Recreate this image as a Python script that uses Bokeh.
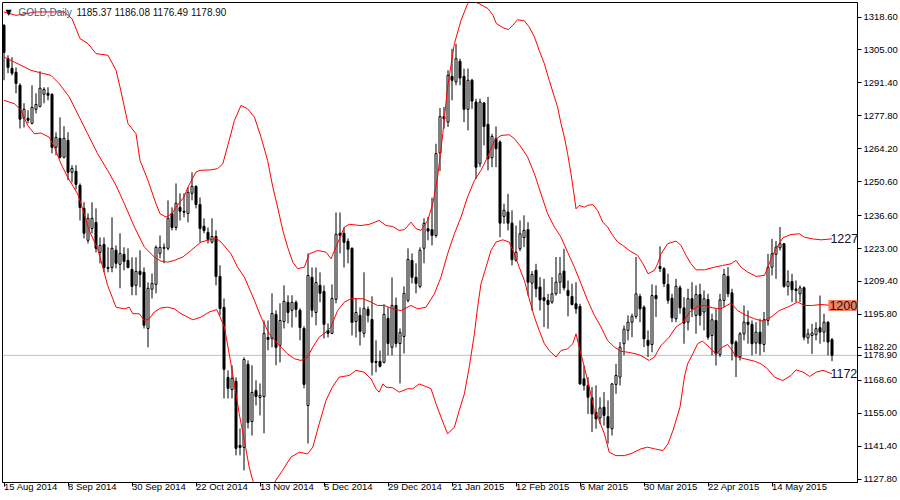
from bokeh.plotting import figure
from bokeh.models import Range1d, FixedTicker, Label, Span, ColumnDataSource, NumeralTickFormatter
from bokeh.embed import file_html
from bokeh.resources import INLINE

# ---------------- data ----------------
open_ = [1315.2,1301.5,1297.4,1295.8,1290.4,1276.8,1276.8,1274.7,1280.5,1281.7,
         1286.7,1287.1,1286.7,1264.8,1268.5,1260.7,1267.7,1254.5,1254.9,1249.1,
         1239.6,1226.4,1231.3,1233.8,1221.4,1224.7,1215.2,1215.2,1222.3,1216.5,
         1220.6,1218.1,1214.4,1207.8,1213.6,1213.2,1190.0,1206.2,1208.2,1221.0,
         1223.1,1223.1,1237.5,1231.7,1240.0,1238.4,1237.5,1245.8,1248.7,1241.2,
         1232.2,1229.7,1225.6,1228.0,1211.5,1198.7,1169.8,1164.8,1168.2,1141.7,
         1140.9,1175.2,1151.6,1164.4,1161.5,1161.9,1186.3,1185.9,1195.8,1183.0,
         1192.9,1200.8,1197.5,1200.8,1197.5,1190.0,1158.2,1211.1,1196.6,1207.8,
         1205.3,1189.2,1188.0,1202.0,1229.3,1229.3,1226.0,1223.1,1192.9,1195.4,
         1188.0,1197.9,1193.7,1176.4,1176.4,1176.0,1194.2,1182.2,1199.5,1183.8,
         1186.7,1201.6,1218.1,1211.1,1207.4,1223.1,1231.2,1230.8,1228.4,1262.4,
         1277.5,1275.2,1294.1,1291.8,1300.3,1294.1,1280.5,1292.5,1283.5,1258.0,
         1283.1,1274.3,1260.5,1268.4,1267.0,1236.3,1238.1,1233.5,1218.1,1222.9,
         1227.5,1230.8,1208.7,1214.0,1207.1,1202.7,1201.6,1200.9,1204.3,1209.1,
         1213.7,1205.7,1203.2,1200.2,1199.1,1169.2,1166.5,1161.4,1155.4,1153.1,
         1157.5,1153.6,1148.6,1166.9,1169.9,1183.7,1189.2,1192.6,1195.0,1203.2,
         1198.8,1185.1,1183.4,1203.6,1215.6,1214.7,1208.2,1202.5,1194.0,1206.8,
         1198.5,1192.6,1202.3,1195.4,1204.0,1196.8,1202.0,1187.1,1193.3,1179.3,
         1201.6,1211.5,1204.7,1184.4,1178.4,1187.8,1192.6,1191.7,1184.0,1188.5,
         1183.4,1193.3,1215.3,1220.6,1223.3,1225.0,1207.4,1209.4,1206.3,1204.3,
         1206.8,1186.1,1187.1,1187.4,1190.3,1188.5,1192.6,1185.37]
high_ = [1315.6,1302.8,1302.0,1297.8,1291.2,1283.0,1280.1,1290.4,1287.1,1296.2,
         1289.6,1289.6,1287.1,1271.0,1277.2,1273.5,1271.0,1257.4,1257.4,1249.9,
         1242.1,1237.5,1242.1,1239.6,1227.6,1227.6,1223.5,1235.9,1224.3,1229.3,
         1223.5,1223.1,1219.4,1219.4,1222.3,1215.2,1209.0,1212.7,1224.3,1228.4,
         1225.1,1242.9,1240.0,1249.9,1245.8,1245.8,1248.3,1254.5,1249.1,1244.1,
         1235.5,1231.7,1235.5,1230.5,1216.1,1202.4,1172.7,1174.8,1169.8,1148.7,
         1178.1,1176.8,1174.8,1168.6,1167.3,1193.3,1193.3,1204.5,1197.5,1200.4,
         1207.8,1203.7,1203.7,1201.6,1198.3,1190.9,1221.0,1215.2,1215.2,1213.2,
         1207.8,1192.1,1208.2,1237.9,1237.9,1231.7,1227.2,1223.5,1202.4,1198.7,
         1213.2,1199.1,1203.3,1185.1,1180.9,1200.0,1198.7,1211.1,1202.8,1190.0,
         1207.4,1223.1,1221.0,1216.9,1223.5,1235.5,1236.0,1244.0,1266.3,1281.0,
         1281.4,1296.6,1305.5,1307.6,1301.4,1297.3,1297.3,1293.1,1284.9,1284.9,
         1283.5,1285.6,1270.4,1273.4,1267.7,1241.5,1245.6,1238.8,1232.5,1234.6,
         1236.7,1233.9,1213.7,1216.7,1211.2,1210.5,1204.3,1211.2,1219.5,1219.5,
         1222.9,1209.8,1208.5,1209.1,1200.2,1174.7,1169.9,1165.8,1166.5,1161.6,
         1163.7,1160.3,1167.5,1175.4,1184.4,1191.2,1195.4,1196.1,1219.5,1204.3,
         1199.5,1189.2,1208.2,1207.8,1223.9,1215.3,1212.6,1204.3,1210.5,1207.8,
         1202.9,1206.4,1209.1,1207.8,1208.5,1205.7,1204.3,1196.1,1198.1,1204.3,
         1214.6,1215.3,1206.4,1185.1,1188.5,1199.5,1197.4,1193.3,1192.6,1194.0,
         1196.8,1220.8,1227.0,1226.1,1231.9,1225.3,1214.0,1212.6,1209.8,1207.8,
         1207.4,1189.9,1191.9,1192.6,1203.6,1196.1,1193.0,1186.08]
low_ = [1292.5,1295.4,1294.5,1287.1,1272.6,1273.0,1274.7,1274.3,1278.8,1281.3,
        1283.0,1284.2,1262.3,1261.5,1260.2,1260.2,1251.2,1250.3,1247.4,1234.6,
        1227.2,1225.1,1229.3,1221.4,1216.9,1213.2,1213.2,1213.2,1214.8,1206.6,
        1214.0,1214.8,1203.7,1203.7,1207.0,1190.0,1182.2,1202.4,1204.5,1219.0,
        1216.9,1222.3,1230.5,1230.5,1234.6,1235.9,1233.8,1242.9,1239.6,1225.6,
        1229.3,1225.1,1225.1,1207.8,1195.4,1161.1,1161.1,1161.1,1137.6,1137.6,
        1131.4,1148.7,1145.8,1158.2,1154.1,1146.7,1181.0,1182.2,1174.8,1176.0,
        1190.0,1192.1,1190.4,1194.6,1185.1,1165.3,1142.5,1194.6,1191.3,1200.8,
        1185.9,1186.3,1187.6,1200.4,1221.0,1215.2,1216.9,1187.1,1186.3,1183.0,
        1186.3,1192.5,1170.6,1171.9,1173.9,1175.6,1178.9,1178.9,1182.2,1167.3,
        1179.7,1200.8,1208.6,1204.5,1206.6,1216.9,1226.4,1224.3,1227.5,1255.0,
        1272.5,1273.2,1284.2,1290.4,1290.4,1275.2,1271.8,1280.7,1251.8,1256.6,
        1265.6,1255.3,1256.6,1256.6,1227.7,1233.2,1230.5,1216.0,1217.6,1221.9,
        1223.6,1203.6,1197.4,1202.9,1197.4,1190.6,1189.9,1200.2,1203.6,1204.3,
        1205.7,1195.0,1199.5,1196.1,1166.8,1164.4,1154.7,1147.2,1148.6,1150.6,
        1149.9,1142.4,1145.8,1163.0,1166.5,1178.9,1185.1,1186.4,1194.0,1192.6,
        1182.3,1178.2,1180.2,1194.7,1213.3,1207.1,1200.2,1192.6,1192.6,1196.1,
        1183.7,1189.2,1194.7,1187.8,1191.2,1189.2,1185.3,1178.9,1174.7,1178.2,
        1198.8,1202.9,1176.8,1169.9,1176.8,1185.1,1183.7,1178.9,1179.5,1178.9,
        1180.2,1191.2,1211.9,1210.5,1222.2,1206.8,1203.6,1200.9,1200.9,1200.9,
        1185.1,1183.7,1179.5,1185.1,1183.7,1184.4,1178.9,1176.49]
close_ = [1304.0,1297.8,1295.4,1291.2,1276.4,1280.5,1276.0,1281.3,1282.5,1289.2,
          1288.7,1286.3,1264.8,1268.9,1260.7,1268.5,1254.5,1256.1,1249.5,1240.0,
          1229.3,1235.5,1235.5,1223.1,1224.3,1215.2,1214.8,1223.1,1216.9,1221.0,
          1217.7,1215.2,1207.4,1213.6,1212.3,1191.3,1206.6,1208.6,1223.5,1223.5,
          1223.5,1235.5,1231.7,1241.7,1238.4,1238.0,1246.2,1248.7,1241.2,1231.3,
          1230.5,1226.8,1228.0,1211.5,1198.3,1173.1,1165.3,1169.4,1140.5,1140.9,
          1177.2,1151.2,1163.6,1161.9,1162.4,1188.0,1185.5,1196.2,1182.2,1193.3,
          1201.2,1196.6,1200.8,1197.9,1190.4,1166.9,1211.9,1197.5,1209.0,1204.5,
          1191.7,1188.0,1202.4,1228.9,1228.4,1225.6,1222.7,1192.5,1196.6,1188.8,
          1198.3,1195.4,1176.0,1176.0,1174.4,1195.8,1183.8,1199.5,1183.8,1188.4,
          1204.5,1218.5,1211.1,1208.6,1222.3,1233.4,1230.2,1228.4,1262.2,1277.5,
          1276.6,1294.5,1292.5,1301.4,1293.4,1280.5,1292.5,1283.9,1256.6,1283.5,
          1273.4,1260.1,1269.3,1264.2,1233.5,1238.8,1233.5,1218.4,1221.5,1229.1,
          1230.5,1209.1,1212.3,1206.4,1201.8,1201.6,1199.9,1204.3,1209.1,1212.6,
          1206.8,1203.6,1199.9,1198.1,1167.1,1166.5,1161.6,1154.7,1152.7,1157.2,
          1154.1,1149.0,1167.1,1170.6,1182.3,1189.7,1192.6,1195.0,1204.3,1198.1,
          1185.7,1183.0,1203.6,1202.3,1214.7,1208.5,1201.6,1194.4,1207.4,1198.5,
          1192.2,1202.3,1198.1,1204.0,1195.4,1202.3,1186.4,1193.6,1179.5,1201.8,
          1212.3,1204.3,1183.7,1178.4,1187.8,1192.6,1191.7,1183.7,1188.5,1183.7,
          1193.6,1215.3,1220.8,1223.6,1225.0,1207.4,1209.4,1206.0,1205.7,1206.8,
          1186.4,1187.8,1188.1,1189.9,1188.5,1192.6,1184.4,1178.90]

upper_x = [0,3,8,15,17,19,21,23,26,28,29,31,33,34,36,38,39,40.5,42,43,45,46,48,49,
           51.75,53.4,54.7,56.3,57.6,59.25,60.9,62.6,64.25,65.9,67.2,68.4,69.7,70.9,72.2,
           73.4,75.1,76.3,78.4,80.5,81.75,83,85.1,86.3,89.25,91.3,93.8,95.5,97.2,98.8,
           100.1,101.75,103,104.25,105.9,107.2,108.4,109.7,110.9,112.6,114.25,115.9,
           116.75,118.8,121,122.25,123.1,124.75,126.1,127.2,128.4,130.1,131.3,132.6,
           133.8,135.1,136.3,137.6,138.4,139.25,140.1,140.9,141.75,142.6,143,143.8,
           145.1,145.9,147.2,148.4,149.7,150.9,152.2,153.4,154.7,156.3,158.4,159.75,
           161,162.6,163.4,164.25,165.9,168,169.25,170.5,171.75,173,175.1,177.6,179.6,
           181.75,183,184.25,185.9,188,190.1,191,191.75,193,194.75,196.75,198.8,200.1,
           202.1,204.25,207]
upper_y = [1320.7,1319.3,1320.7,1320.7,1317.9,1309.7,1307.6,1303.5,1302.8,1296.6,1289.7,
           1274.6,1270.4,1259.4,1251.1,1241.5,1237.4,1236.0,1237.4,1240.1,1244.3,1248.4,
           1254.6,1255.3,1255.5,1256.0,1258.0,1267.7,1275.9,1282.1,1280.7,1277.3,1269.0,
           1259.4,1248.4,1240.1,1230.5,1223.6,1217.4,1214.7,1215.3,1220.8,1222.2,1221.5,
           1218.8,1223.6,1231.9,1233.0,1232.5,1233.0,1234.6,1232.5,1232.1,1230.5,1230.8,
           1233.9,1231.2,1230.5,1234.6,1241.5,1252.5,1270.4,1289.7,1307.6,1317.2,1324.1,
           1325.5,1324.1,1322.1,1319.3,1315.9,1314.2,1313.4,1315.2,1317.5,1317.0,1314.5,
           1310.4,1304.8,1299.3,1292.5,1285.6,1281.4,1274.6,1269.0,1262.2,1253.9,1244.3,
           1239.4,1240.8,1240.1,1240.8,1241.2,1238.7,1233.9,1231.9,1228.4,1225.7,1224.3,
           1222.2,1220.2,1216.7,1212.6,1214.0,1216.7,1220.8,1225.0,1226.1,1224.3,1220.2,
           1216.7,1214.2,1214.2,1215.3,1216.0,1216.7,1218.1,1215.3,1213.3,1211.5,1211.9,
           1215.3,1218.8,1222.9,1227.5,1228.8,1229.1,1227.7,1227.0,1226.6,1227.0]

middle_x = [0,2.6,6.75,9.25,11.75,13.8,16.3,19.25,20.9,23.4,25.9,28,30.1,32.6,35.1,37.6,
            39.25,40.9,42.6,44.7,46.75,49.25,50.9,53,54.25,56.75,58.4,60.1,62.6,64.25,
            66.3,68.4,70.9,72.6,74.25,75.9,77.2,78.8,80.5,81.75,83.4,85.1,86.75,89.7,
            91.75,93.4,95.1,97.2,99.25,101.75,103.4,105.5,107.6,109.25,110.9,112.6,
            114.25,115.9,117.6,119.25,120.9,122.6,124.25,126.3,127.6,129.25,130.9,132.6,
            134.25,135.9,137.6,139.25,140.9,142.6,144.25,145.9,147.6,149.25,150.9,152.6,
            154.25,155.9,158,159.25,161.3,162.6,164.25,166.3,168,169.75,171.4,173.4,
            175.1,177.2,179.25,181.75,183.4,185.5,187.6,189.7,191.75,193.8,195.9,198.4,
            200.1,202.1,204.25,207]
middle_y = [1302.1,1300.0,1296.6,1295.5,1294.5,1291.1,1285.6,1275.9,1270.4,1262.2,1255.3,
            1249.1,1241.5,1231.9,1223.6,1219.5,1217.8,1217.4,1218.1,1219.5,1222.2,1225.7,
            1226.4,1227.2,1225.7,1220.8,1215.3,1211.2,1201.6,1194.7,1187.8,1183.7,1179.5,
            1177.5,1176.8,1178.2,1182.3,1186.4,1188.5,1190.6,1197.4,1200.9,1202.3,1202.3,
            1200.9,1199.5,1199.5,1198.1,1197.4,1199.5,1198.1,1198.8,1204.3,1211.2,1220.8,
            1229.1,1236.0,1244.3,1251.1,1255.3,1260.8,1267.7,1269.7,1270.0,1268.4,1264.9,
            1260.8,1253.9,1245.6,1237.4,1231.9,1227.7,1221.5,1215.3,1208.5,1201.6,1195.4,
            1190.6,1185.0,1182.3,1180.6,1180.2,1179.5,1178.8,1176.8,1178.2,1183.0,1186.4,
            1190.6,1192.6,1196.8,1199.1,1199.5,1198.5,1198.1,1200.5,1197.4,1195.4,1194.0,
            1193.0,1194.7,1197.4,1198.8,1200.9,1199.5,1199.5,1199.9,1199.5]

lower_x = [0,2.6,4.25,5.9,7.6,9.25,11.3,12.6,14.25,15.9,18.4,19.25,21.3,23.4,24.7,25.9,
           28,30.1,31.3,32.2,33.8,35.1,36.3,37.6,39.25,40.9,42.6,44.25,47.2,49.25,51.3,
           53.2,55.1,56.3,57.6,58.8,60.1,61.3,62.2,63.5,65,66.5,67.9,69.6,71.75,73.8,
           75.9,77.2,78.8,80.5,82.1,83.8,86.3,88,90,91.75,93,93.8,94.7,95.5,97.2,98.8,
           100.9,102.2,103.8,105.5,106.75,108,109.25,110.9,112.6,113.8,115.1,116.3,
           117.6,118.4,119.25,120.5,121.75,123,124.7,126.3,127.6,128.8,130.1,131.3,
           132.6,133.8,135.1,136.3,138,139.25,140.9,142.2,143,143.8,145.1,146.3,147.6,
           148.8,150.1,151.3,153,155.1,156.75,159.25,160.9,162.6,164.75,166,167.25,169,
           170.1,170.9,172.2,173.4,174.6,176.3,178,179.6,180.9,181.75,183,185.1,187.6,
           189.25,190.9,192.6,194.7,196.75,198,199.75,201.4,203.1,204.75,207]
lower_y = [1284.2,1282.8,1280.1,1273.9,1270.4,1270.7,1269.0,1264.9,1258.0,1252.5,1245.6,
           1241.5,1230.5,1222.9,1215.3,1207.8,1198.8,1198.1,1198.8,1196.1,1196.1,1193.3,
           1194.0,1196.8,1198.5,1198.8,1198.1,1196.1,1193.6,1194.7,1196.8,1197.8,1190.6,
           1179.5,1167.1,1154.8,1143.7,1132.7,1127.2,1120.0,1116.5,1119.5,1127.2,1131.3,
           1136.9,1138.9,1138.2,1141.0,1150.6,1160.3,1165.8,1169.9,1170.6,1172.7,1172.0,
           1169.2,1165.1,1163.7,1167.1,1165.8,1165.5,1163.7,1165.1,1165.1,1167.1,1166.0,
           1165.1,1158.9,1153.4,1146.5,1149.2,1156.1,1163.0,1174.0,1187.8,1198.8,1208.5,
           1215.3,1222.2,1225.7,1226.6,1225.7,1220.8,1215.3,1209.8,1202.3,1194.7,1189.2,
           1183.7,1180.9,1178.2,1180.9,1181.6,1183.7,1187.8,1182.3,1174.0,1165.8,1156.1,
           1152.0,1146.5,1138.9,1137.5,1137.5,1138.3,1140.3,1141.0,1140.3,1139.6,1142.4,
           1147.9,1157.5,1169.9,1175.4,1179.5,1183.7,1184.8,1182.3,1179.5,1182.3,1183.4,
           1181.6,1178.4,1177.5,1176.5,1175.4,1173.3,1169.9,1168.5,1170.6,1172.9,1172.0,
           1170.2,1172.0,1172.7,1171.3]

date_ticks = [0, 16, 32, 48, 64, 80, 96, 112, 128, 144, 160, 176, 192]
date_labels = ["15 Aug 2014", "8 Sep 2014", "30 Sep 2014", "22 Oct 2014", "13 Nov 2014",
               "5 Dec 2014", "29 Dec 2014", "21 Jan 2015", "12 Feb 2015", "6 Mar 2015",
               "30 Mar 2015", "22 Apr 2015", "14 May 2015"]
price_ticks = [1318.6, 1305.0, 1291.4, 1277.8, 1264.2, 1250.6, 1236.6, 1223.0, 1209.4,
               1195.8, 1182.2, 1168.6, 1155.0, 1141.4, 1127.8]
last_price = 1178.90
band_end = {"upper": 1227, "middle": 1200, "lower": 1172}
header_ohlc = "1185.37 1186.08 1176.49 1178.90"

# ---------------- figure ----------------
FONT = "Liberation Sans"
X0, X1 = -0.375, 213.375
Y0, Y1 = 1126.4, 1324.6
p = figure(width=900, height=500, output_backend="svg", toolbar_location=None,
           x_range=Range1d(X0, X1), y_range=Range1d(Y0, Y1),
           x_axis_location="below", y_axis_location="right",
           min_border_left=2, min_border_top=2, min_border_right=43, min_border_bottom=18)
p.background_fill_color = "white"
p.border_fill_color = "white"
p.outline_line_color = "black"
p.outline_line_width = 1
p.grid.visible = False

xs = list(range(len(close_)))
src = ColumnDataSource(dict(
    x=xs, high=high_, low=low_,
    top=[max(o, c) for o, c in zip(open_, close_)],
    bottom=[min(o, c) for o, c in zip(open_, close_)],
    fill=["white" if c >= o else "black" for o, c in zip(open_, close_)],
))

p.add_layout(Span(location=last_price, dimension="width", line_color="#C0C0C0",
                  line_width=1, level="underlay"))

p.segment(x0="x", y0="low", x1="x", y1="high", source=src, line_color="black", line_width=1)
p.vbar(x="x", width=0.5, top="top", bottom="bottom", source=src,
       fill_color="fill", line_color="black", line_width=1)

for bx, by in ((upper_x, upper_y), (middle_x, middle_y), (lower_x, lower_y)):
    p.line(bx, by, line_color="#FF0000", line_width=1)

# bottom axis: labels start at their tick (tiny negative angle -> left anchored)
xa = p.xaxis[0]
xa.ticker = FixedTicker(ticks=date_ticks)
xa.major_label_overrides = {t: l for t, l in zip(date_ticks, date_labels)}
xa.major_label_orientation = -0.0001
xa.major_label_text_font = FONT
xa.major_label_text_font_size = "9.5px"
xa.major_label_text_color = "black"
xa.major_label_standoff = 0
xa.major_tick_out = 4
xa.major_tick_in = 0
xa.minor_tick_out = 0
xa.minor_tick_in = 0
xa.axis_line_color = "black"
xa.major_tick_line_color = "black"

# right axis (price scale) incl. the last-price marker
ya = p.yaxis[0]
ya.ticker = FixedTicker(ticks=price_ticks + [last_price])
ya.formatter = NumeralTickFormatter(format="0.00")
ya.major_label_text_font = FONT
ya.major_label_text_font_size = "9.5px"
ya.major_label_text_color = "black"
ya.major_label_standoff = 2
ya.major_tick_out = 4
ya.major_tick_in = 0
ya.minor_tick_out = 0
ya.minor_tick_in = 0
ya.axis_line_color = "black"
ya.major_tick_line_color = "black"

# header
p.add_layout(Label(x=0.4, y=1320.6, text="▼", text_font="DejaVu Sans", text_font_size="8px",
                   text_color="black", text_baseline="middle"))
p.add_layout(Label(x=3.6, y=1320.6, text="GOLD,Daily", text_font=FONT, text_font_size="10px",
                   text_color="#3a5a84", text_baseline="middle"))
p.add_layout(Label(x=18.1, y=1320.6, text=header_ohlc, text_font=FONT, text_font_size="10px",
                   text_color="#101010", text_baseline="middle"))

# band end labels
p.add_layout(Label(x=206.6, y=band_end["upper"], text=str(band_end["upper"]), text_font=FONT,
                   text_font_size="12.5px", text_color="#111122", text_baseline="middle"))
p.add_layout(Label(x=206.1, y=1199.5, text=str(band_end["middle"]), text_font=FONT,
                   text_font_size="12.5px", text_color="#111122", text_baseline="middle",
                   background_fill_color="#F3805F", padding=1))
p.add_layout(Label(x=206.6, y=1171.3, text=str(band_end["lower"]), text_font=FONT,
                   text_font_size="12.5px", text_color="#111122", text_baseline="middle"))

open("out.html", "w").write(file_html(p, INLINE))
